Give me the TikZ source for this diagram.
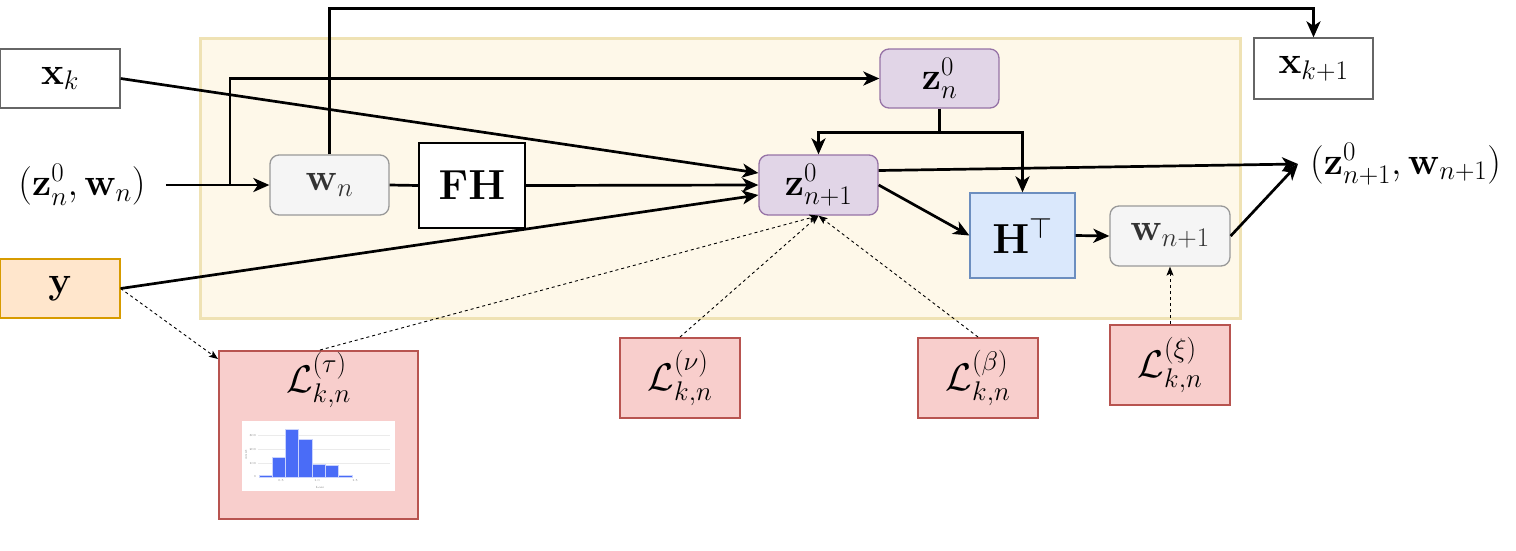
\RequirePackage{fix-cm}
\documentclass[tikz,border=0pt]{standalone}
\usepackage{amsmath}
\usetikzlibrary{arrows.meta,calc}
\definecolor{bgfill}{HTML}{FEF8E9}
\definecolor{bgdraw}{HTML}{EFE2B4}
\definecolor{grayfill}{HTML}{F5F5F5}
\definecolor{graydraw}{HTML}{999999}
\definecolor{darktext}{HTML}{333333}
\definecolor{purfill}{HTML}{E1D5E7}
\definecolor{purdraw}{HTML}{9673A6}
\definecolor{bluefill}{HTML}{DAE8FC}
\definecolor{bluedraw}{HTML}{6C8EBF}
\definecolor{orfill}{HTML}{FFE6CC}
\definecolor{ordraw}{HTML}{D79B00}
\definecolor{redfill}{HTML}{F8CECC}
\definecolor{reddraw}{HTML}{B85450}
\definecolor{boxgray}{HTML}{666666}
\definecolor{barblue}{HTML}{4A6CF7}
\tikzset{
  txt/.style={font=\fontsize{38.5}{42}\selectfont, inner sep=0pt},
  bigtxt/.style={font=\fontsize{42}{46}\selectfont, inner sep=0pt},
  plainbox/.style={txt, draw=boxgray, line width=1.3pt, fill=white},
  graybox/.style={txt, draw=graydraw, line width=1.3pt, fill=grayfill, rounded corners=9pt, text=darktext},
  purbox/.style={txt, draw=purdraw, line width=1.3pt, fill=purfill, rounded corners=9pt},
  lossbox/.style={txt, draw=reddraw, line width=2pt, fill=redfill},
  arr/.style={line width=2.7pt, -{Stealth[length=16pt,width=14pt,inset=4.5pt]}},
  plain/.style={line width=2.7pt},
  darr/.style={line width=0.9pt, dash pattern=on 3pt off 3pt, -{Stealth[length=9pt,width=7pt,inset=2pt]}},
}
\begin{document}
\begin{tikzpicture}[x=1pt,y=-1pt]
\useasboundingbox (0,0) rectangle (1516,550);
% background container
\node[draw=bgdraw, fill=bgfill, line width=3pt, minimum width=1040pt, minimum height=280pt, inner sep=0pt] (bg) at (720,178) {};

% nodes
\node[plainbox, minimum width=120pt, minimum height=59pt] (xk) at (60,78.5) {$\mathbf{x}_k$};
\node[plainbox, minimum width=119pt, minimum height=61pt] (xk1) at (1313.5,68.5) {$\mathbf{x}_{k+1}$};
\node[txt] (zw) at (82,185) {$(\mathbf{z}^0_n,\mathbf{w}_n)$};
\node[graybox, minimum width=119pt, minimum height=60pt] (wn) at (329.5,185) {$\mathbf{w}_n$};
\node[bigtxt, draw=black, line width=1.3pt, fill=white, minimum width=106pt, minimum height=85pt] (FH) at (472,185.5) {$\mathbf{FH}$};
\node[purbox, minimum width=119pt, minimum height=60pt] (zn1) at (818.5,185) {$\mathbf{z}^0_{n+1}$};
\node[purbox, minimum width=119pt, minimum height=59pt] (zn) at (939.5,78.5) {$\mathbf{z}^0_n$};
\node[bigtxt, draw=bluedraw, line width=1.3pt, fill=bluefill, minimum width=105pt, minimum height=85pt] (HT) at (1022.5,235.5) {$\mathbf{H}^\top$};
\node[graybox, minimum width=120pt, minimum height=60pt] (wn1) at (1170,236) {$\mathbf{w}_{n+1}$};
\node[txt, anchor=west, inner xsep=12pt] (out) at (1298,164) {$(\mathbf{z}^0_{n+1},\mathbf{w}_{n+1})$};
\node[txt, draw=ordraw, line width=1.3pt, fill=orfill, minimum width=120pt, minimum height=59pt] (y) at (60,288.5) {$\mathbf{y}$};

\node[lossbox, minimum width=199pt, minimum height=168pt] (Ltau) at (318.5,435) {};
\node[txt] (Ltaulab) at (318.5,380) {$\mathcal{L}^{(\tau)}_{k,n}$};
\node[lossbox, minimum width=120pt, minimum height=80pt] (Lnu) at (680,378) {$\mathcal{L}^{(\nu)}_{k,n}$};
\node[lossbox, minimum width=120pt, minimum height=80pt] (Lbeta) at (978,378) {$\mathcal{L}^{(\beta)}_{k,n}$};
\node[lossbox, minimum width=120pt, minimum height=80pt] (Lxi) at (1170,365) {$\mathcal{L}^{(\xi)}_{k,n}$};

% histogram thumbnail
\fill[white] (242,421) rectangle (395,491);
\draw[black!8, line width=0.5pt] (258,463.3) -- (390,463.3);
\draw[black!8, line width=0.5pt] (258,449.3) -- (390,449.3);
\draw[black!8, line width=0.5pt] (258,435.3) -- (390,435.3);
\begin{scope}[fill=barblue, draw=white!70!barblue, line width=0.4pt]
\filldraw (259,475) rectangle (271.7,476.7);
\filldraw (271.7,456.7) rectangle (285,476.7);
\filldraw (285,429) rectangle (298.3,476.7);
\filldraw (298.3,439.3) rectangle (311.7,476.7);
\filldraw (311.7,464) rectangle (325,476.7);
\filldraw (325,465) rectangle (338.3,476.7);
\filldraw (338.3,475) rectangle (351.7,476.7);
\end{scope}
\begin{scope}[font=\fontsize{3}{3}\selectfont, text=black!55, inner sep=0pt]
\node[anchor=east] at (256,476.7) {0};
\node[anchor=east] at (256,463.3) {100};
\node[anchor=east] at (256,449.3) {200};
\node[anchor=east] at (256,435.3) {300};
\node[rotate=90] at (246,455) {count};
\node at (281,481) {0.5};
\node at (317,481) {1.0};
\node at (355,481) {1.5};
\node at (320,487) {Loss};
\end{scope}

% connectors
\coordinate (j) at (230,185);
\coordinate (topy) at (0,8.3);
\coordinate (zb) at (939.5,132.7);
\draw[arr, shorten <=20pt] (zw.east) -- (wn.west);
\draw[arr] (j) |- (zn.west);
\draw[arr] (wn.north) -- (wn.north |- topy) -| (xk1.north);
\draw[plain] (wn.east) -- (FH.west);
\draw[arr] (FH.east) -- (zn1.west);
\draw[arr] (xk.east) -- ([yshift=12pt]zn1.west);
\draw[arr] (y.east) -- ([yshift=-10pt]zn1.west);
\draw[plain] (zn.south) -- (zb);
\draw[arr] (zb) -| (zn1.north);
\draw[arr] (zb) -| (HT.north);
\draw[arr] ([yshift=14.5pt]zn1.east) -- (out.west);
\draw[arr] (zn1.east) -- (HT.west);
\draw[arr] (HT.east) -- (wn1.west);
\draw[arr] (wn1.east) -- (out.west);

% dashed loss links
\draw[darr] (y.east) -- ([yshift=-9pt]Ltau.north west);
\draw[darr] ([xshift=1.5pt]Ltau.north) -- (zn1.south);
\draw[darr] (Lnu.north) -- (zn1.south);
\draw[darr] (Lbeta.north) -- (zn1.south);
\draw[darr] (Lxi.north) -- (wn1.south);
\end{tikzpicture}
\end{document}
